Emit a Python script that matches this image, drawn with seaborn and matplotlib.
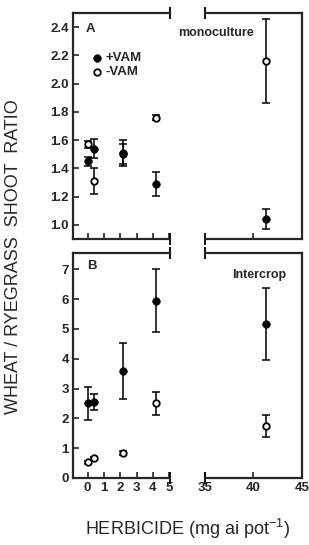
import numpy as np
import pandas as pd
import matplotlib
matplotlib.use("Agg")
import matplotlib.pyplot as plt
import seaborn as sns

# =======================
# Data
# =======================
dose_low = [0, 0.4, 2.2, 4.2]
dose_high = [41.3]

# A - monoculture
a_vam = [1.45, 1.54, 1.51, 1.29]
a_vam_err = [0.03, 0.07, 0.09, 0.085]
a_novam = [1.57, 1.31, 1.50, 1.76]
a_novam_err = [0.025, 0.09, 0.07, 0.02]
a_vam_hi = [1.04]
a_vam_hi_err = [0.07]
a_novam_hi = [2.16]
a_novam_hi_err = [0.30]

# B - intercrop
b_vam = [2.51, 2.55, 3.59, 5.95]
b_vam_err = [0.55, 0.28, 0.95, 1.07]
b_novam = [0.53, 0.66, 0.83, 2.51]
b_novam_err = [0.05, 0.05, 0.07, 0.39]
b_vam_hi = [5.17]
b_vam_hi_err = [1.21]
b_novam_hi = [1.74]
b_novam_hi_err = [0.37]

sns.set_style("ticks")
plt.rcParams['font.family'] = ['Liberation Sans', 'DejaVu Sans']
plt.rcParams['mathtext.fontset'] = 'custom'
plt.rcParams['mathtext.rm'] = 'Liberation Sans'
plt.rcParams['xtick.direction'] = 'in'
plt.rcParams['ytick.direction'] = 'in'

fig = plt.figure(figsize=(3.09, 5.45), dpi=100)
axA1 = fig.add_axes([0.236, 0.5615, 0.314, 0.4147])
axA2 = fig.add_axes([0.663, 0.5615, 0.314, 0.4147])
axB1 = fig.add_axes([0.236, 0.123, 0.314, 0.413])
axB2 = fig.add_axes([0.663, 0.123, 0.314, 0.413])


def draw(ax, x, y_open, e_open, y_fill, e_fill):
    df = pd.DataFrame({'x': list(x) * 2, 'y': list(y_open) + list(y_fill),
                       'trt': ['-VAM'] * len(x) + ['+VAM'] * len(x)})
    kw = dict(fmt='none', ecolor='black', elinewidth=1.1, capsize=3, capthick=1.1)
    ax.errorbar(x, y_open, yerr=e_open, **kw)
    ax.errorbar(x, y_fill, yerr=e_fill, **kw)
    sns.scatterplot(data=df[df.trt == '-VAM'], x='x', y='y', ax=ax, marker='o', s=22,
                    facecolor='white', edgecolor='black', linewidth=1.3, zorder=3,
                    label='-VAM', legend=False)
    sns.scatterplot(data=df[df.trt == '+VAM'], x='x', y='y', ax=ax, marker='o', s=30,
                    color='black', edgecolor='black', zorder=4, label='+VAM', legend=False)
    ax.set_xlabel('')
    ax.set_ylabel('')


draw(axA1, dose_low, a_novam, a_novam_err, a_vam, a_vam_err)
draw(axA2, dose_high, a_novam_hi, a_novam_hi_err, a_vam_hi, a_vam_hi_err)
draw(axB1, dose_low, b_novam, b_novam_err, b_vam, b_vam_err)
draw(axB2, dose_high, b_novam_hi, b_novam_hi_err, b_vam_hi, b_vam_hi_err)

for ax in [axA1, axB1]:
    ax.set_xlim(-0.9, 5.05)
    ax.set_xticks([0, 1, 2, 3, 4, 5])
    ax.spines['right'].set_visible(False)
for ax in [axA2, axB2]:
    ax.set_xlim(35, 45)
    ax.spines['left'].set_visible(False)
    ax.set_yticks([])
axA2.set_xticks([40])
axB2.set_xticks([35, 40, 45])

for ax in [axA1, axA2]:
    ax.set_ylim(0.9, 2.5)
    ax.tick_params(labelbottom=False)
axA1.set_yticks(np.arange(1.0, 2.41, 0.2))
axA1.set_yticklabels([f'{v:.1f}' for v in np.arange(1.0, 2.41, 0.2)])
for ax in [axB1, axB2]:
    ax.set_ylim(0, 7.55)
axB1.set_yticks(range(0, 8))

for ax in [axA1, axA2, axB1, axB2]:
    for s in ax.spines.values():
        s.set_linewidth(1.6)
    ax.tick_params(length=4, width=1.2, labelsize=9.5, pad=3)
    for lab in ax.get_xticklabels() + ax.get_yticklabels():
        lab.set_fontweight('bold')

# broken axis end bars
for ax, xe in [(axA1, 1), (axB1, 1), (axA2, 0), (axB2, 0)]:
    ax.plot([xe, xe], [0, 1], transform=ax.transAxes, ls='none', marker='|',
            ms=8, mew=1.3, color='black', clip_on=False)

axA1.text(0.13, 0.93, 'A', transform=axA1.transAxes, fontsize=9.5, fontweight='bold',
          va='center')
axB1.text(0.15, 0.94, 'B', transform=axB1.transAxes, fontsize=9.5, fontweight='bold',
          va='center')
leg = axA1.legend(handles=axA1.collections[-1:] + axA1.collections[-2:-1],
                  loc='upper left', bbox_to_anchor=(0.04, 0.88), frameon=False,
                  handletextpad=0.1, handlelength=1.2, labelspacing=0.15,
                  prop={'weight': 'bold', 'size': 9.5})
fig.text(0.578, 0.94, 'monoculture', fontsize=9, fontweight='bold', va='center')
fig.text(0.75, 0.495, 'Intercrop', fontsize=9, fontweight='bold', va='center')

fig.text(0.045, 0.53, 'WHEAT / RYEGRASS  SHOOT  RATIO', rotation=90, fontsize=13,
         ha='center', va='center')
fig.text(0.608, 0.03, 'HERBICIDE (mg ai pot$^{-1}$)', fontsize=13, ha='center',
         va='center')

fig.savefig('out.png', dpi=100)
